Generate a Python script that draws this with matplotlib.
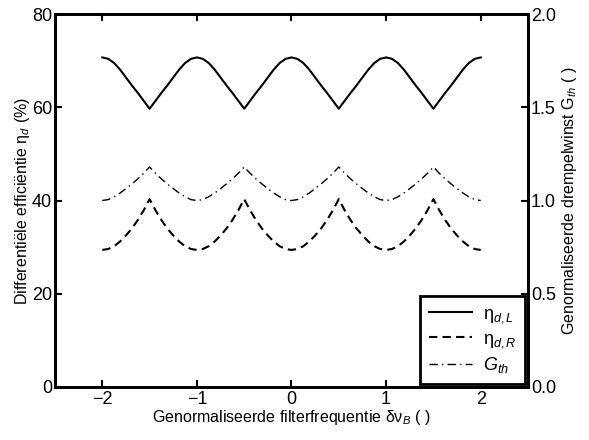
import numpy as np
import matplotlib
matplotlib.use("Agg")
import matplotlib.pyplot as plt

plt.rcParams['font.family'] = ['Liberation Sans', 'DejaVu Sans']
plt.rcParams['mathtext.fontset'] = 'custom'
plt.rcParams['mathtext.rm'] = 'Liberation Sans'
plt.rcParams['mathtext.it'] = 'Liberation Sans:italic'
plt.rcParams['mathtext.default'] = 'it'

# filter frequency grid, steps of 1/16
x = np.linspace(-2, 2, 65)

# differential efficiency, left facet (%)
eta_L = [70.7, 70.4, 69.5, 68.1, 66.4, 64.7, 63.1, 61.4, 59.7, 61.4, 63.1, 64.7, 66.4, 68.1, 69.5, 70.4,
         70.7, 70.4, 69.5, 68.1, 66.4, 64.7, 63.1, 61.4, 59.7, 61.4, 63.1, 64.7, 66.4, 68.1, 69.5, 70.4,
         70.7, 70.4, 69.5, 68.1, 66.4, 64.7, 63.1, 61.4, 59.7, 61.4, 63.1, 64.7, 66.4, 68.1, 69.5, 70.4,
         70.7, 70.4, 69.5, 68.1, 66.4, 64.7, 63.1, 61.4, 59.7, 61.4, 63.1, 64.7, 66.4, 68.1, 69.5, 70.4,
         70.7]
# differential efficiency, right facet (%)
eta_R = [29.4, 29.6, 30.2, 31.2, 32.5, 34.0, 35.8, 37.9, 40.3, 37.9, 35.8, 34.0, 32.5, 31.2, 30.2, 29.6,
         29.4, 29.6, 30.2, 31.2, 32.5, 34.0, 35.8, 37.9, 40.3, 37.9, 35.8, 34.0, 32.5, 31.2, 30.2, 29.6,
         29.4, 29.6, 30.2, 31.2, 32.5, 34.0, 35.8, 37.9, 40.3, 37.9, 35.8, 34.0, 32.5, 31.2, 30.2, 29.6,
         29.4, 29.6, 30.2, 31.2, 32.5, 34.0, 35.8, 37.9, 40.3, 37.9, 35.8, 34.0, 32.5, 31.2, 30.2, 29.6,
         29.4]
# normalised threshold gain
g_th = [1.000, 1.005, 1.020, 1.040, 1.064, 1.089, 1.116, 1.146, 1.180, 1.146, 1.116, 1.089, 1.064, 1.040, 1.020, 1.005,
        1.000, 1.005, 1.020, 1.040, 1.064, 1.089, 1.116, 1.146, 1.180, 1.146, 1.116, 1.089, 1.064, 1.040, 1.020, 1.005,
        1.000, 1.005, 1.020, 1.040, 1.064, 1.089, 1.116, 1.146, 1.180, 1.146, 1.116, 1.089, 1.064, 1.040, 1.020, 1.005,
        1.000, 1.005, 1.020, 1.040, 1.064, 1.089, 1.116, 1.146, 1.180, 1.146, 1.116, 1.089, 1.064, 1.040, 1.020, 1.005,
        1.000]

fig = plt.figure(figsize=(5.89, 4.4), dpi=100)
ax = fig.add_axes([0.0934, 0.1205, 0.8030, 0.8475])
ax2 = ax.twinx()

l1, = ax.plot(x, eta_L, color='black', lw=1.5)
l2, = ax.plot(x, eta_R, color='black', lw=1.5, linestyle=(0, (4, 2.5)))
l3, = ax2.plot(x, g_th, color='black', lw=1.0, linestyle=(0, (6, 3, 1, 3)))

ax.set_xlim(-2.5, 2.5)
ax.set_ylim(0, 80)
ax2.set_ylim(0, 2.0)
ax.set_xticks([-2, -1, 0, 1, 2])
ax.set_yticks([0, 20, 40, 60, 80])
ax2.set_yticks([0, 0.5, 1.0, 1.5, 2.0])
ax2.set_yticklabels(['0.0', '0.5', '1.0', '1.5', '2.0'])

for a in (ax, ax2):
    for s in a.spines.values():
        s.set_linewidth(2)
ax.tick_params(axis='x', direction='in', top=True, length=5, width=1.5, labelsize=13, pad=3)
ax.tick_params(axis='y', direction='in', length=5, width=1.5, labelsize=13, pad=2)
ax2.tick_params(axis='y', direction='in', length=5, width=1.5, labelsize=13, pad=2)

ax.set_xlabel('Genormaliseerde filterfrequentie δν$_B$ ( )', fontsize=11.5, labelpad=0)
ax.set_ylabel('Differentiële efficiëntie η$_d$ (%)', fontsize=11.5, labelpad=0)
ax2.set_ylabel('Genormaliseerde drempelwinst G$_{th}$ ( )', fontsize=11.5, labelpad=3)

leg = ax2.legend([l1, l2, l3], ['η$_{d,L}$', 'η$_{d,R}$', '$G_{th}$'],
                 loc='lower right', fontsize=13, fancybox=False, framealpha=1,
                 edgecolor='black', borderaxespad=0.15, handlelength=2.4,
                 labelspacing=0.3, borderpad=0.5, handletextpad=0.6)
leg.get_frame().set_linewidth(2)

fig.savefig('out.png', dpi=100)
